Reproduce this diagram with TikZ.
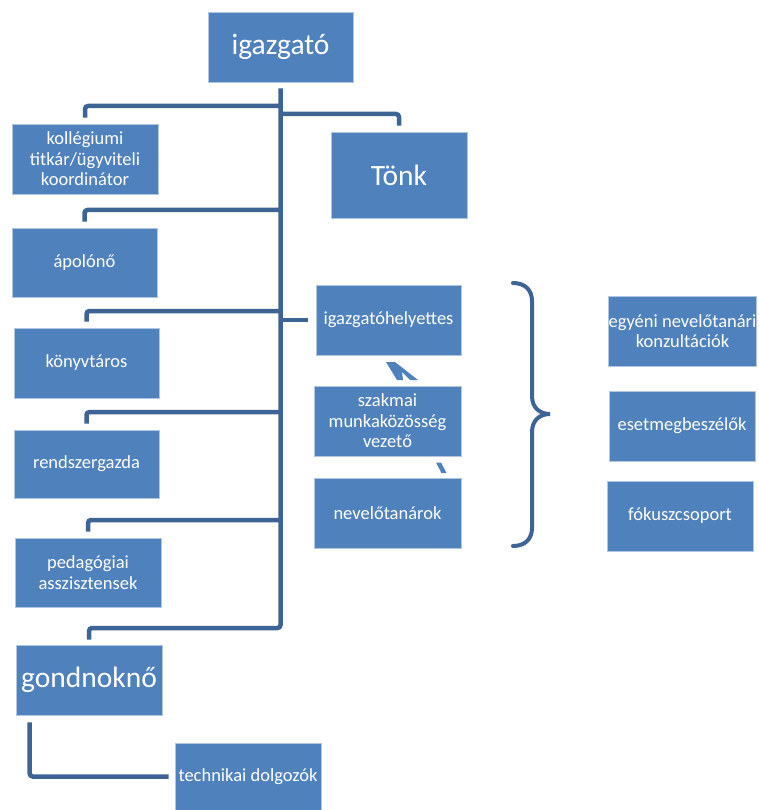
\documentclass[tikz,border=0pt]{standalone}
\usepackage{fontspec}
\setmainfont{Carlito}
\usetikzlibrary{arrows.meta,calc}
\definecolor{boxfill}{RGB}{79,129,189}
\definecolor{conn}{RGB}{62,100,150}
\tikzset{
  box/.style={rectangle, fill=boxfill, draw=white!55!boxfill, line width=0.6pt, text=white, align=center, inner sep=0pt,
    font=\fontsize{18.5}{20.5}\selectfont},
  bigbox/.style={box, font=\fontsize{29.5}{34}\selectfont},
  conn/.style={draw=conn, line width=4.5pt, rounded corners=3pt},
}
\newcommand{\bx}[6]{\node[#1, minimum width=#4pt, minimum height=#5pt] (#2) at (#3) {#6};}
\begin{document}
\begin{tikzpicture}[x=1pt,y=-1pt]
\fill[white] (0,0) rectangle (758,810);
\useasboundingbox (0,0) rectangle (758,810);

% fragments of a block arrow, mostly hidden behind the boxes
\coordinate (h1) at (386,362);
\coordinate (h2) at (395,362);
\coordinate (h3) at (418,380);
\coordinate (h4) at (410,380);
\coordinate (h5) at (402,372);
\coordinate (h6) at (403,380);
\coordinate (h7) at (397,380);
\fill[boxfill] (h1) -- (h2) -- (h3) -- (h4) -- (h5) -- (h6) -- (h7) -- cycle;
\coordinate (d1) at (436,462.5);
\coordinate (d2) at (441,462.5);
\coordinate (d3) at (446.5,473);
\coordinate (d4) at (441.5,473);
\fill[boxfill] (d1) -- (d2) -- (d3) -- (d4) -- cycle;

% boxes
\bx{bigbox}{ig}{280.5,47}{145}{70}{igazgató}
\bx{box}{kol}{85,159}{146}{70}{kollégiumi\\titkár/ügyviteli\\koordinátor}
\bx{bigbox}{tonk}{399,175}{136}{86}{Tönk}
\bx{box}{apo}{84.5,262.5}{145}{69}{ápolónő}
\bx{box}{kon}{86.5,363}{145}{70}{könyvtáros}
\bx{box}{ren}{86.5,464}{145}{68}{rendszergazda}
\bx{box}{ped}{88,572.5}{146}{69}{pedagógiai\\asszisztensek}
\bx{bigbox}{gon}{89,680}{146}{70}{gondnoknő}
\bx{box}{tec}{248,776.5}{146}{67}{technikai dolgozók}
\bx{box}{igh}{388.5,320}{145}{70}{igazgatóhelyettes}
\bx{box}{sza}{387.5,421}{147}{70}{szakmai\\munkaközösség\\vezető}
\bx{box}{nev}{387.5,513}{147}{70}{nevelőtanárok}
\bx{box}{egy}{682.5,331}{145}{70}{egyéni nevelőtanári\\konzultációk}
\bx{box}{ese}{682,426}{146}{70}{esetmegbeszélők}
\bx{box}{fok}{680,516}{146}{70}{fókuszcsoport}

% trunk
\coordinate (t0) at ($(ig.south)+(0,6)$);
\coordinate (tb) at (t0 |- 0,628);
\draw[conn] (t0) -- (tb) -| ($(gon.north)+(0,-5)$);
% branches
\draw[conn] (t0 |- 0,106) -| ($(kol.north)+(0,-6)$);
\draw[conn] (t0 |- 0,114) -| ($(tonk.north)+(0,-6)$);
\draw[conn] (t0 |- 0,210) -| ($(apo.north)+(0,-6)$);
\draw[conn] (t0 |- 0,311) -| ($(kon.north)+(0,-6)$);
\draw[conn] (t0 |- 0,412) -| ($(ren.north)+(0,-6)$);
\draw[conn] (t0 |- 0,520) -| ($(ped.north)+(0,-6)$);
\draw[conn] (t0 |- igh.west) -- ($(igh.west)+(-8,0)$);
% gondnokno -> technikai
\coordinate (g0) at ($(gon.south west)+(14,7)$);
\draw[conn] (g0) |- ($(tec.west)+(-6,0)$);

% brace
\draw[conn, line width=4pt, rounded corners=0pt, line cap=round]
  (513,283) .. controls (525,283) and (532,290) .. (532,301) -- (532,396)
  .. controls (532,408) and (540,414) .. (550,414)
  .. controls (540,414) and (532,420) .. (532,432) -- (532,528)
  .. controls (532,539) and (525,546) .. (513,546);
\end{tikzpicture}
\end{document}
